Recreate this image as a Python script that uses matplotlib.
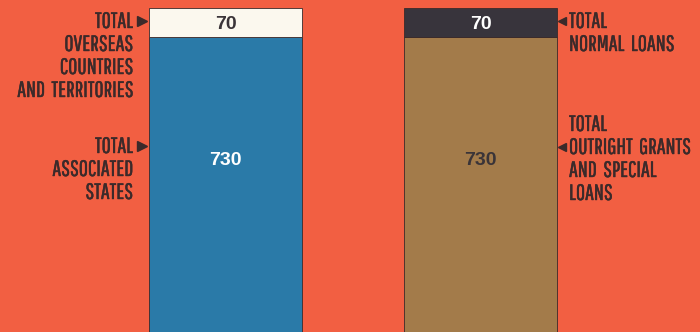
import matplotlib.pyplot as plt
import matplotlib.patheffects as pe
import numpy as np

# values (units as printed on the chart)
bars = ["left", "right"]
bottom_vals = [730, 730]
top_vals = [70, 70]
bottom_colors = ["#2a7aa8", "#a37b4a"]
top_colors = ["#fbf8ee", "#38343c"]
bottom_text_colors = ["white", "#3a3438"]
top_text_colors = ["#3a3438", "white"]

left_labels = [["TOTAL", "OVERSEAS", "COUNTRIES", "AND  TERRITORIES"],
               ["TOTAL", "ASSOCIATED", "STATES"]]
right_labels = [["TOTAL", "NORMAL  LOANS"],
                ["TOTAL", "OUTRIGHT  GRANTS", "AND  SPECIAL", "LOANS"]]

bg = "#f25f42"
txt = "#3b2a2a"
px_x = 255.0          # pixels per x unit
px_y = 29 / 70.0      # pixels per value unit

fig = plt.figure(figsize=(7, 3.32), dpi=100)
fig.patch.set_facecolor(bg)
ax = fig.add_axes([0, 0, 1, 1])
ax.set_facecolor(bg)
x0 = -225.5 / px_x
ax.set_xlim(x0, x0 + 700 / px_x)
ytop = 800 + 8 / px_y
ax.set_ylim(ytop - 332 / px_y, ytop)
ax.axis("off")

x = np.arange(len(bars))
w = 0.6
ax.bar(x, bottom_vals, width=w, color=bottom_colors, edgecolor="#3a2a2a", linewidth=0.6)
ax.bar(x, top_vals, width=w, bottom=bottom_vals, color=top_colors, edgecolor="#3a2a2a", linewidth=0.6)

def ypix(p):
    return ytop - p / px_y

num_font = dict(family="Liberation Sans", fontweight="bold", fontsize=14)
for i in range(len(bars)):
    ax.text(x[i], ypix(29), str(top_vals[i]), ha="center", va="baseline",
            color=top_text_colors[i], **num_font)
    ax.text(x[i], ypix(165), str(bottom_vals[i]), ha="center", va="baseline",
            color=bottom_text_colors[i], **num_font)

lab_font = dict(family=["Pathway Gothic One", "DejaVu Sans"], fontsize=16, color=txt,
                path_effects=[pe.withStroke(linewidth=0.3, foreground=txt)])
step = 23

# left side labels, baseline of first line in pixel rows
for lines, r in zip(left_labels, [28, 153]):
    for k, s in enumerate(lines):
        ax.text(x[0] - w / 2 - 16 / px_x, ypix(r + k * step), s, ha="right", va="baseline", **lab_font)
    ax.plot(x[0] - w / 2 - 7 / px_x, ypix(r - 7), marker=">", color=txt, markersize=7, clip_on=False)

# right side labels
for lines, r, tk in zip(right_labels, [28, 131], [0, 1]):
    for k, s in enumerate(lines):
        ax.text(x[1] + w / 2 + 12 / px_x, ypix(r + k * step), s, ha="left", va="baseline", **lab_font)
    ax.plot(x[1] + w / 2 + 5 / px_x, ypix(r + tk * step - 7), marker="<", color=txt, markersize=5.5, clip_on=False)

fig.savefig("out.png", dpi=100, facecolor=bg)
